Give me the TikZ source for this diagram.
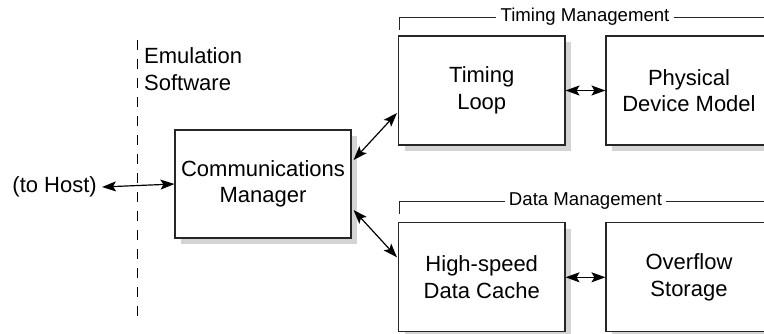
\documentclass[tikz,border=0pt]{standalone}
\usepackage{fontspec}
\setmainfont{Liberation Sans}
\usetikzlibrary{arrows.meta,shadows}
\begin{document}
\begin{tikzpicture}[x=1pt,y=-1pt,
  >={Stealth[length=14pt,width=10pt,inset=3pt]},
  blk/.style={draw=black!85, line width=1.1pt, fill=white, align=center,
    font=\fontsize{22}{26.5}\selectfont, inner sep=0pt,
    general shadow={fill=black!17, shadow xshift=6pt, shadow yshift=-6pt}},
  lbl/.style={font=\fontsize{22}{26.5}\selectfont, align=left, inner sep=0pt, anchor=base west},
  grp/.style={font=\fontsize{18.6}{22}\selectfont, fill=white, inner xsep=4pt, inner ysep=0pt},
  link/.style={line width=1.2pt, <->},
  brk/.style={line width=1pt, black!85}]
\useasboundingbox (0,0) rectangle (764,333);
\clip (0,0) rectangle (764,333);
% dashed boundary
\coordinate (dtop) at (137,40);
\coordinate (dbot) at (137,318);
\draw[line width=1pt, dash pattern=on 10pt off 9pt] (dtop) -- (dbot);
\node[lbl] (emu) at (144,63) {Emulation};
\node[lbl] (sw) at (144,90) {Software};
% boxes
\node[blk, minimum width=176pt, minimum height=108pt] (cm) at (263,184) {Communications\\Manager};
\node[blk, minimum width=166.5pt, minimum height=109pt] (tl) at (481.75,90.5) {Timing\\Loop};
\node[blk, minimum width=166pt, minimum height=109pt] (pdm) at (689,90.5) {Physical\\Device Model};
\node[blk, minimum width=166.5pt, minimum height=109pt] (hs) at (481.75,277.3) {High-speed\\Data Cache};
\node[blk, minimum width=166pt, minimum height=109pt] (of) at (689,277.3) {Overflow\\Storage};
% host
\node[font=\fontsize{22}{26.5}\selectfont, inner sep=0pt, anchor=east] (host) at (97,187) {(to Host)};
% group brackets
\node[grp] (tm) at (585,17) {Timing Management};
\node[grp] (dm) at (585.5,201) {Data Management};
\coordinate (tmL) at (399,30);
\coordinate (tmC) at (399,17);
\coordinate (tmR) at (770,17);
\coordinate (dmL) at (399,214);
\coordinate (dmC) at (399,201);
\coordinate (dmR) at (770,201);
\draw[brk] (tmL) -- (tmC) -- (tm.west);
\draw[brk] (tm.east) -- (tmR);
\draw[brk] (dmL) -- (dmC) -- (dm.west);
\draw[brk] (dm.east) -- (dmR);
% connectors
\draw[link] ([xshift=5pt]host.east) -- (cm.west);
\draw[link] ([xshift=2pt,yshift=24pt]cm.east) -- ([xshift=-1pt,yshift=-22.5pt]tl.west);
\draw[link] ([xshift=2pt,yshift=-26pt]cm.east) -- ([xshift=-1pt,yshift=20pt]hs.west);
\draw[link] (tl.east) -- (pdm.west);
\draw[link] (hs.east) -- (of.west);
\end{tikzpicture}
\end{document}
